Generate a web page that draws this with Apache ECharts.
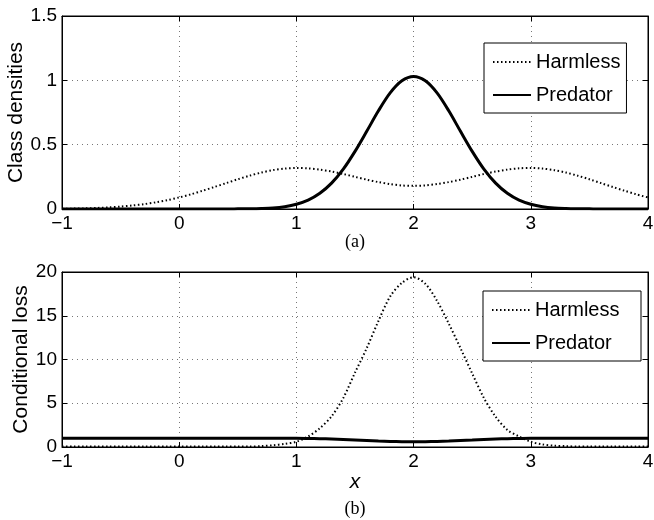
<!DOCTYPE html>
<html>
<head>
<meta charset="utf-8">
<script src="https://cdn.jsdelivr.net/npm/echarts@6/dist/echarts.min.js"></script>
<style>
  html, body { margin: 0; padding: 0; background: #fff; }
  #chart { width: 654px; height: 520px; }
</style>
</head>
<body>
<div id="chart"></div>
<script>
// x positions (step 0.1 from -1 to 4)
const X = [-1, -0.9, -0.8, -0.7, -0.6, -0.5, -0.4, -0.3, -0.2, -0.1,
  0, 0.1, 0.2, 0.3, 0.4, 0.5, 0.6, 0.7, 0.8, 0.9,
  1, 1.1, 1.2, 1.3, 1.4, 1.5, 1.6, 1.7, 1.8, 1.9,
  2, 2.1, 2.2, 2.3, 2.4, 2.5, 2.6, 2.7, 2.8, 2.9,
  3, 3.1, 3.2, 3.3, 3.4, 3.5, 3.6, 3.7, 3.8, 3.9, 4]

// (a) class densities
const harmlessDensity = [0.002, 0.003, 0.005, 0.008, 0.013, 0.019, 0.027, 0.038, 0.052, 0.069,
  0.090, 0.114, 0.142, 0.171, 0.201, 0.231, 0.259, 0.283, 0.302, 0.314,
  0.319, 0.316, 0.306, 0.291, 0.272, 0.250, 0.228, 0.209, 0.194, 0.183,
  0.180, 0.183, 0.194, 0.209, 0.228, 0.250, 0.272, 0.291, 0.306, 0.316,
  0.319, 0.314, 0.302, 0.283, 0.259, 0.231, 0.201, 0.171, 0.142, 0.114, 0.090]
const predatorDensity = [0, 0, 0, 0, 0, 0, 0, 0, 0, 0,
  0, 0, 0, 0, 0, 0.001, 0.002, 0.004, 0.008, 0.018,
  0.037, 0.069, 0.122, 0.201, 0.310, 0.448, 0.604, 0.763, 0.902, 0.996,
  1.03, 0.996, 0.902, 0.763, 0.604, 0.448, 0.310, 0.201, 0.122, 0.069,
  0.037, 0.018, 0.008, 0.004, 0.002, 0.001, 0, 0, 0, 0, 0]

// (b) conditional loss
const harmlessLoss = [0.05, 0.05, 0.05, 0.05, 0.05, 0.05, 0.05, 0.05, 0.05, 0.05,
  0.05, 0.05, 0.05, 0.05, 0.05, 0.05, 0.05, 0.1, 0.2, 0.35,
  0.6, 1.2, 2.15, 3.5, 5.6, 8.5, 11.3, 14.4, 17.2, 18.75,
  19.4, 18.65, 16.7, 14.1, 11.3, 8.4, 5.6, 3.45, 1.95, 1.2,
  0.6, 0.3, 0.15, 0.1, 0.05, 0.05, 0.05, 0.05, 0.05, 0.05, 0.05]
const predatorLoss = [1, 1, 1, 1, 1, 1, 1, 1, 1, 1,
  1, 1, 1, 1, 1, 1, 1, 1, 1, 1,
  1, 0.98, 0.95, 0.91, 0.86, 0.8, 0.74, 0.68, 0.64, 0.61,
  0.6, 0.61, 0.64, 0.68, 0.74, 0.8, 0.86, 0.91, 0.95, 0.98,
  1, 1, 1, 1, 1, 1, 1, 1, 1, 1, 1]

const SANS = 'Liberation Sans'
const pairs = (ys) => X.map((x, i) => [x, ys[i]])

const gridLine = { lineStyle: { color: '#777', type: [1, 4], width: 1 } }
const tick = { inside: true, length: 5, lineStyle: { color: '#000' } }
const axLine = { onZero: false, lineStyle: { color: '#000', width: 1 } }
const lbl = {
  color: '#000', fontFamily: SANS, fontSize: 19, margin: 5,
  formatter: (v) => String(v).replace('-', '\u2212'),
}

function xAx(grid, extra) {
  return Object.assign({
    type: 'value', gridIndex: grid, min: -1, max: 4, interval: 1,
    axisLine: axLine, axisTick: tick, splitLine: gridLine, axisLabel: lbl,
  }, extra)
}
function yAx(grid, max, interval, name, extra) {
  return Object.assign({
    type: 'value', gridIndex: grid, min: 0, max, interval,
    axisLine: axLine, axisTick: tick, splitLine: gridLine, axisLabel: lbl,
    name, nameLocation: 'middle', nameGap: 36, nameMoveOverlap: false,
    nameTextStyle: { color: '#000', fontFamily: SANS, fontSize: 21 },
  }, extra)
}
// top/right mirror axes, ticks only
const mirror = { axisLabel: { show: false }, splitLine: { show: false }, name: '' }

const dotted = { color: '#000', width: 2, type: [1.5, 2.5] }
const solid = { color: '#000', width: 3 }

const legendBase = {
  orient: 'vertical', itemWidth: 38, itemHeight: 14, itemGap: 13,
  borderColor: '#000', borderWidth: 1, backgroundColor: '#fff',
  itemStyle: { opacity: 0 },
  textStyle: { color: '#000', fontFamily: SANS, fontSize: 20 },
}

const chart = echarts.init(document.getElementById('chart'), null, { renderer: 'canvas' })
chart.setOption({
  animation: false,
  backgroundColor: '#fff',
  grid: [
    { left: 62, top: 16, width: 586, height: 193, show: true, borderColor: '#000', borderWidth: 1, outerBoundsMode: 'none' },
    { left: 62, top: 272, width: 586, height: 175, show: true, borderColor: '#000', borderWidth: 1, outerBoundsMode: 'none' },
  ],
  xAxis: [
    xAx(0),
    xAx(1, {
      name: 'x', nameLocation: 'middle', nameGap: 25, nameMoveOverlap: false,
      nameTextStyle: { color: '#000', fontFamily: SANS, fontSize: 21, fontStyle: 'italic' },
    }),
    xAx(0, Object.assign({ position: 'top' }, mirror)),
    xAx(1, Object.assign({ position: 'top' }, mirror)),
  ],
  yAxis: [
    yAx(0, 1.5, 0.5, 'Class densities', { nameGap: 35 }),
    yAx(1, 20, 5, 'Conditional loss', { nameGap: 30 }),
    yAx(0, 1.5, 0.5, '', Object.assign({ position: 'right' }, mirror)),
    yAx(1, 20, 5, '', Object.assign({ position: 'right' }, mirror)),
  ],
  legend: [
    Object.assign({ left: 484, top: 43, padding: [9, 6, 8, 8], data: ['Harmless', 'Predator'] }, legendBase),
    Object.assign({ left: 483, top: 291, padding: [9, 16, 8, 8], data: ['Harmless ', 'Predator '] }, legendBase),
  ],
  graphic: [
    { type: 'text', x: 355, y: 242, style: { text: '(a)', font: '18px "Liberation Serif"', fill: '#000', align: 'center', verticalAlign: 'middle' } },
    { type: 'text', x: 355, y: 509, style: { text: '(b)', font: '18px "Liberation Serif"', fill: '#000', align: 'center', verticalAlign: 'middle' } },
  ],
  series: [
    { name: 'Harmless', type: 'line', xAxisIndex: 0, yAxisIndex: 0, smooth: 0.3, symbol: 'none',
      lineStyle: dotted, itemStyle: { color: '#000' }, data: pairs(harmlessDensity) },
    { name: 'Predator', type: 'line', xAxisIndex: 0, yAxisIndex: 0, smooth: 0.3, symbol: 'none',
      lineStyle: solid, itemStyle: { color: '#000' }, data: pairs(predatorDensity) },
    { name: 'Harmless ', type: 'line', xAxisIndex: 1, yAxisIndex: 1, smooth: 0.3, symbol: 'none',
      lineStyle: dotted, itemStyle: { color: '#000' }, data: pairs(harmlessLoss) },
    { name: 'Predator ', type: 'line', xAxisIndex: 1, yAxisIndex: 1, smooth: 0.3, symbol: 'none',
      lineStyle: solid, itemStyle: { color: '#000' }, data: pairs(predatorLoss) },
  ],
})
</script>
</body>
</html>
